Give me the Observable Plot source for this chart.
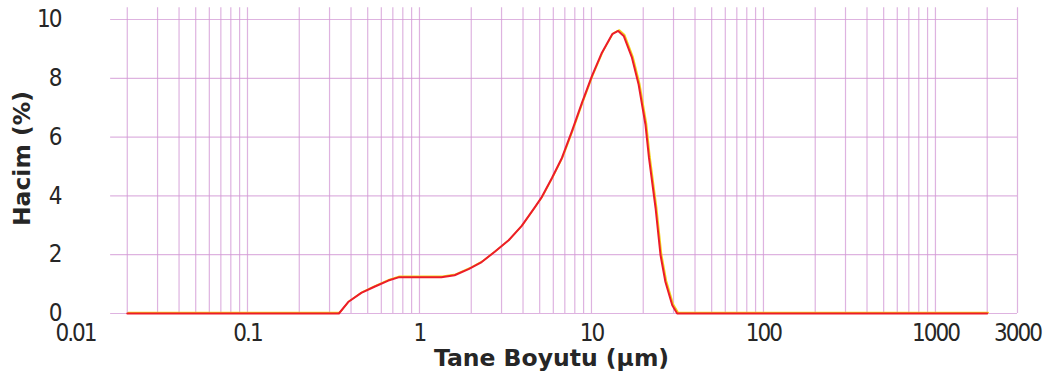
<!DOCTYPE html>
<html>
<head>
<meta charset="utf-8">
<script src="https://cdn.jsdelivr.net/npm/d3@7"></script>
<script src="https://cdn.jsdelivr.net/npm/@observablehq/plot@0.6"></script>
<style>
  html, body { margin: 0; padding: 0; background: #fff; }
  #chart svg { display: block; overflow: visible; }
  #chart g[aria-label="y-axis tick label"] text,
  #chart g[aria-label="x-tick-labels"] text { letter-spacing: -2px; }
</style>
</head>
<body>
<div id="chart"></div>
<script>
// Particle size (µm) and volume (%)
const sizes = [0.02, 0.34, 0.385, 0.459, 0.547, 0.659, 0.755, 1.03, 1.34, 1.60, 1.93, 2.30, 2.74, 3.30, 3.93, 4.68, 5.14, 5.89, 6.73, 7.70, 8.81, 10.07, 11.5, 13.2, 14.3, 15.4, 17.2, 18.8, 20.6, 21.6, 23.6, 25.2, 26.9, 29.5, 31.5, 2000];
const volumes = [0, 0, 0.39, 0.70, 0.91, 1.12, 1.23, 1.23, 1.23, 1.30, 1.51, 1.75, 2.10, 2.49, 2.98, 3.61, 3.96, 4.61, 5.29, 6.20, 7.17, 8.08, 8.87, 9.50, 9.61, 9.44, 8.70, 7.79, 6.43, 5.29, 3.58, 1.99, 1.08, 0.28, 0, 0];

const xTicks = [0.01, 0.1, 1, 10, 100, 1000, 3000];
const xTickLabels = ["0.01", "0.1", "1", "10", "100", "1000", "3000"];
const yTicks = [0, 2, 4, 6, 8, 10];
const decades = [0.01, 0.1, 1, 10, 100, 1000];
const multiples = [1, 2, 3, 4, 5, 6, 7, 8, 9];
const xTitle = "Tane Boyutu (µm)";
const yTitle = "Hacim (%)";

const curve = sizes.map((s, i) => ({size: s, volume: volumes[i]}));
const xLabelRows = xTicks.map((t, i) => ({tick: t, label: xTickLabels[i]}));
const vGridSet = new Set();
for (const d of decades) for (const m of multiples) {
  const v = +(d * m).toPrecision(3);
  if (v >= 0.02 && v <= 3000) vGridSet.add(v);
}
vGridSet.add(3000);
const vGrid = Array.from(vGridSet);

const gridColor = "#d39ad6";
const tickFont = "'Liberation Sans Narrow', 'DejaVu Sans Condensed', 'Liberation Sans', sans-serif";
const titleFont = "'DejaVu Sans', 'Liberation Sans', sans-serif";

const chart = Plot.plot({
  width: 1049,
  height: 382,
  marginLeft: 75,
  marginRight: 32,
  marginTop: 19,
  marginBottom: 69,
  style: {background: "#fff", color: "#262626", fontFamily: tickFont},
  x: {type: "log", domain: [0.01, 3000], axis: null},
  y: {domain: [0, 10]},
  marks: [
    Plot.ruleY(yTicks, {x1: 0.016, x2: 3000, stroke: gridColor, strokeWidth: 1.2, strokeOpacity: 0.75}),
    Plot.ruleX(vGrid, {y1: 0, y2: 10.4, stroke: gridColor, strokeWidth: 1.2, strokeOpacity: 0.75}),
    Plot.line(curve, {x: "size", y: "volume", stroke: "#f2d21a", strokeWidth: 1.6, dx: 1, dy: -1}),
    Plot.line(curve, {x: "size", y: "volume", stroke: "#ec1c2a", strokeWidth: 2}),
    Plot.text(xLabelRows, {x: "tick", text: "label", frameAnchor: "bottom", lineAnchor: "top", textAnchor: "middle", dy: 10, fontSize: 24, fill: "#262626"}),
    Plot.axisY({ticks: yTicks, tickSize: 0, tickPadding: 15, fontSize: 24, label: null}),
    Plot.text([xTitle], {frameAnchor: "bottom", textAnchor: "middle", lineAnchor: "middle", dx: 5, dy: 45, fontSize: 23.5, fontWeight: "bold", fontFamily: titleFont, fill: "#262626"}),
    Plot.text([yTitle], {frameAnchor: "left", textAnchor: "middle", lineAnchor: "middle", rotate: -90, dx: -53, dy: -8, fontSize: 23.5, fontWeight: "bold", fontFamily: titleFont, fill: "#262626"})
  ]
});
// tag the x tick label group for styling
const groups = chart.querySelectorAll("g[aria-label='text']");
if (groups.length) groups[0].setAttribute("aria-label", "x-tick-labels");
document.getElementById("chart").appendChild(chart);
</script>
</body>
</html>
